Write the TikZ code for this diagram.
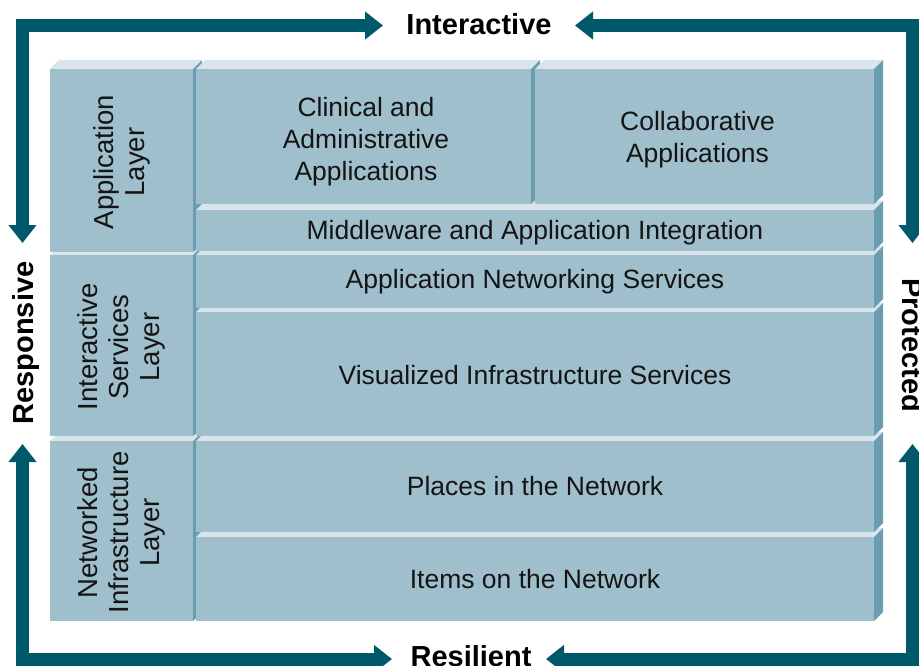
\documentclass[tikz,border=0pt]{standalone}
\usepackage{fontspec}
\setmainfont{Liberation Sans}
\usetikzlibrary{arrows.meta}
\definecolor{framec}{RGB}{0,88,107}
\definecolor{frontc}{RGB}{160,191,204}
\definecolor{topc}{RGB}{217,229,235}
\definecolor{sidec}{RGB}{107,157,176}
\definecolor{inkc}{RGB}{20,20,20}
\newcommand\dep{9}
% \slab{name}{x0}{y0}{x1}{y1}{text}{node options}: a block with front, top and right faces
\newcommand\slab[7]{%
  \fill[topc] (#2,#3) -- ++(\dep,-\dep) -- (#4+\dep,#3-\dep) -- (#4,#3) -- cycle;
  \fill[sidec] (#4,#3) -- ++(\dep,-\dep) -- (#4+\dep,#5-\dep) -- (#4,#5) -- cycle;
  \fill[frontc] (#2,#3) rectangle (#4,#5);
  \node[blocktext,#7] (#1) at ({(#2+#4)/2},{(#3+#5)/2}) {#6};
}
\begin{document}
\begin{tikzpicture}[x=1pt,y=-1pt,
  blocktext/.style={align=center,text=inkc,inner sep=0pt,
    font=\fontsize{26.5}{32}\selectfont},
  layertext/.style={rotate=90,font=\fontsize{27.5}{31}\selectfont},
  frame/.style={line width=13pt,draw=framec,line join=miter,
    {Triangle[width=27pt,length=18pt]}-{Triangle[width=27pt,length=18pt]}},
  edgelabel/.style={inner sep=0pt,text depth=0pt,text=black,
    font=\fontsize{29}{34}\selectfont\bfseries}]
\useasboundingbox (0,0) rectangle (919,666);

% layer column, drawn bottom to top
\slab{nilayer}{50}{441}{193}{621}{Networked\\Infrastructure\\Layer}{layertext,xshift=-1.5pt}
\slab{islayer}{50}{255}{193}{436}{Interactive\\Services\\Layer}{layertext,xshift=-1.5pt}
\slab{applayer}{50}{69}{193}{252}{Application\\Layer}{layertext,xshift=-1.5pt}

% service blocks, drawn bottom to top
\slab{items}{196}{537}{874}{621}{Items on the Network}{}
\slab{places}{196}{441}{874}{532}{Places in the Network}{}
\slab{virt}{196}{312}{874}{436}{Visualized Infrastructure Services}{yshift=-1pt}
\slab{appnet}{196}{255}{874}{308}{Application Networking Services}{}
\slab{middle}{196}{210}{874}{251}{Middleware and Application Integration}{yshift=-2.5pt}
\slab{clinical}{196}{69}{531}{204}{Clinical and\\Administrative\\Applications}{xshift=2.5pt,yshift=-5pt}
\slab{collab}{535}{69}{874}{204}{Collaborative\\Applications}{xshift=-7pt,yshift=-3pt}

% edge labels
\node[edgelabel] (interactive) at (479,24) {Interactive};
\node[edgelabel] (resilient) at (471,656) {Resilient};
\node[edgelabel,rotate=90] (responsive) at (22.5,343) {Responsive};
\node[edgelabel,rotate=-90] (protected) at (912.5,345) {Protected};

% frame corners and arrow ends
\coordinate (ctl) at (22.5,25.5);
\coordinate (ctr) at (912.5,25.5);
\coordinate (cbr) at (912.5,659);
\coordinate (cbl) at (22.5,659);
\coordinate (tl1) at (22.5,243);
\coordinate (tl2) at (383,25.5);
\coordinate (tr1) at (575,25.5);
\coordinate (tr2) at (912.5,243);
\coordinate (br1) at (912.5,444);
\coordinate (br2) at (546,659);
\coordinate (bl1) at (22.5,444);
\coordinate (bl2) at (392,659);

\draw[frame] (tl1) -- (ctl) -- (tl2);
\draw[frame] (tr1) -- (ctr) -- (tr2);
\draw[frame] (br1) -- (cbr) -- (br2);
\draw[frame] (bl1) -- (cbl) -- (bl2);
\end{tikzpicture}
\end{document}
